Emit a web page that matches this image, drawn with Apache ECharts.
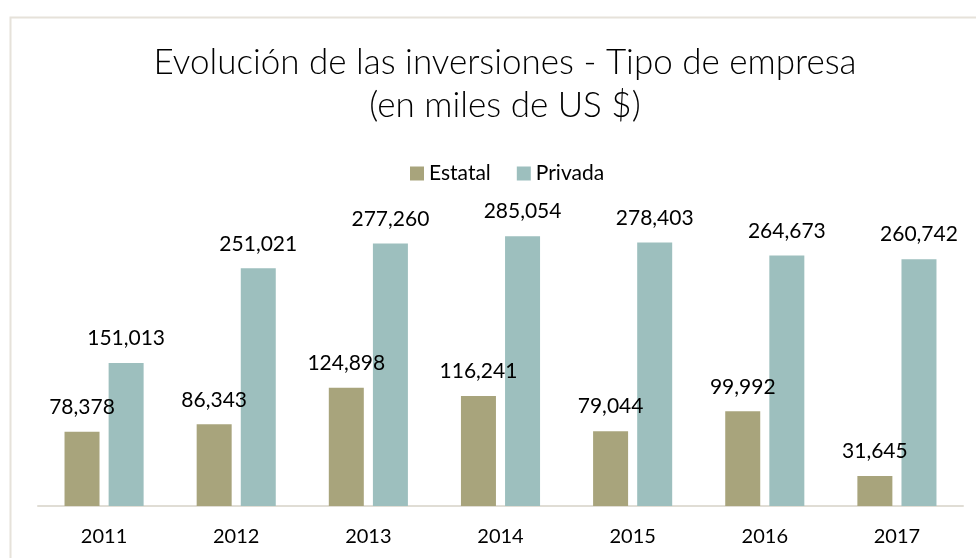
<!DOCTYPE html>
<html>
<head>
<meta charset="utf-8">
<script src="https://cdn.jsdelivr.net/npm/echarts@6/dist/echarts.min.js"></script>
<style>html,body{margin:0;padding:0;background:#fff;}#c{width:976px;height:558px;}</style>
</head>
<body>
<div id="c"></div>
<script>
var categories = ['2011', '2012', '2013', '2014', '2015', '2016', '2017'];
var estatal = [78378, 86343, 124898, 116241, 79044, 99992, 31645];
var privada = [151013, 251021, 277260, 285054, 278403, 264673, 260742];
var seriesNames = ['Estatal', 'Privada'];

var chart = echarts.init(document.getElementById('c'), null, {renderer: 'canvas'});
var font = 'Lato, "Open Sans", sans-serif';
var labelCfg = {
  show: true, position: 'top', distance: 14,
  fontFamily: font, fontSize: 21, color: '#000',
  formatter: function (p) { return p.value.toLocaleString('en-US'); }
};
chart.setOption({
  animation: false,
  backgroundColor: '#fff',
  graphic: [{
    type: 'rect', left: 8, top: 15, silent: true,
    shape: {width: 1000, height: 600},
    style: {fill: 'none', stroke: '#e6e2da', lineWidth: 2}
  }],
  title: {
    text: 'Evolución de las inversiones - Tipo de empresa\n(en miles de US $)',
    left: 500, top: 36, textAlign: 'center',
    textStyle: {fontFamily: font, fontWeight: 300, fontSize: 35, color: '#000', lineHeight: 43}
  },
  legend: {
    data: seriesNames, top: 158, left: 405,
    itemWidth: 14, itemHeight: 14, itemGap: 26, icon: 'rect',
    textStyle: {fontFamily: font, fontSize: 21, color: '#000'}
  },
  grid: {left: 38, right: 13, top: 222, bottom: 52},
  xAxis: {
    type: 'category', data: categories,
    axisLine: {lineStyle: {color: '#e0ddd5', width: 2}},
    axisTick: {show: false},
    axisLabel: {fontFamily: font, fontSize: 20, color: '#000', margin: 21}
  },
  yAxis: {
    type: 'value', min: 0, max: 300000,
    show: false, splitLine: {show: false}
  },
  series: [
    {name: seriesNames[0], type: 'bar', data: estatal, barWidth: 35, barGap: '26%',
     itemStyle: {color: '#a8a47c'}, label: labelCfg},
    {name: seriesNames[1], type: 'bar', data: privada, barWidth: 35, barGap: '26%',
     itemStyle: {color: '#9dbfbe'}, label: labelCfg}
  ]
});
</script>
</body>
</html>
